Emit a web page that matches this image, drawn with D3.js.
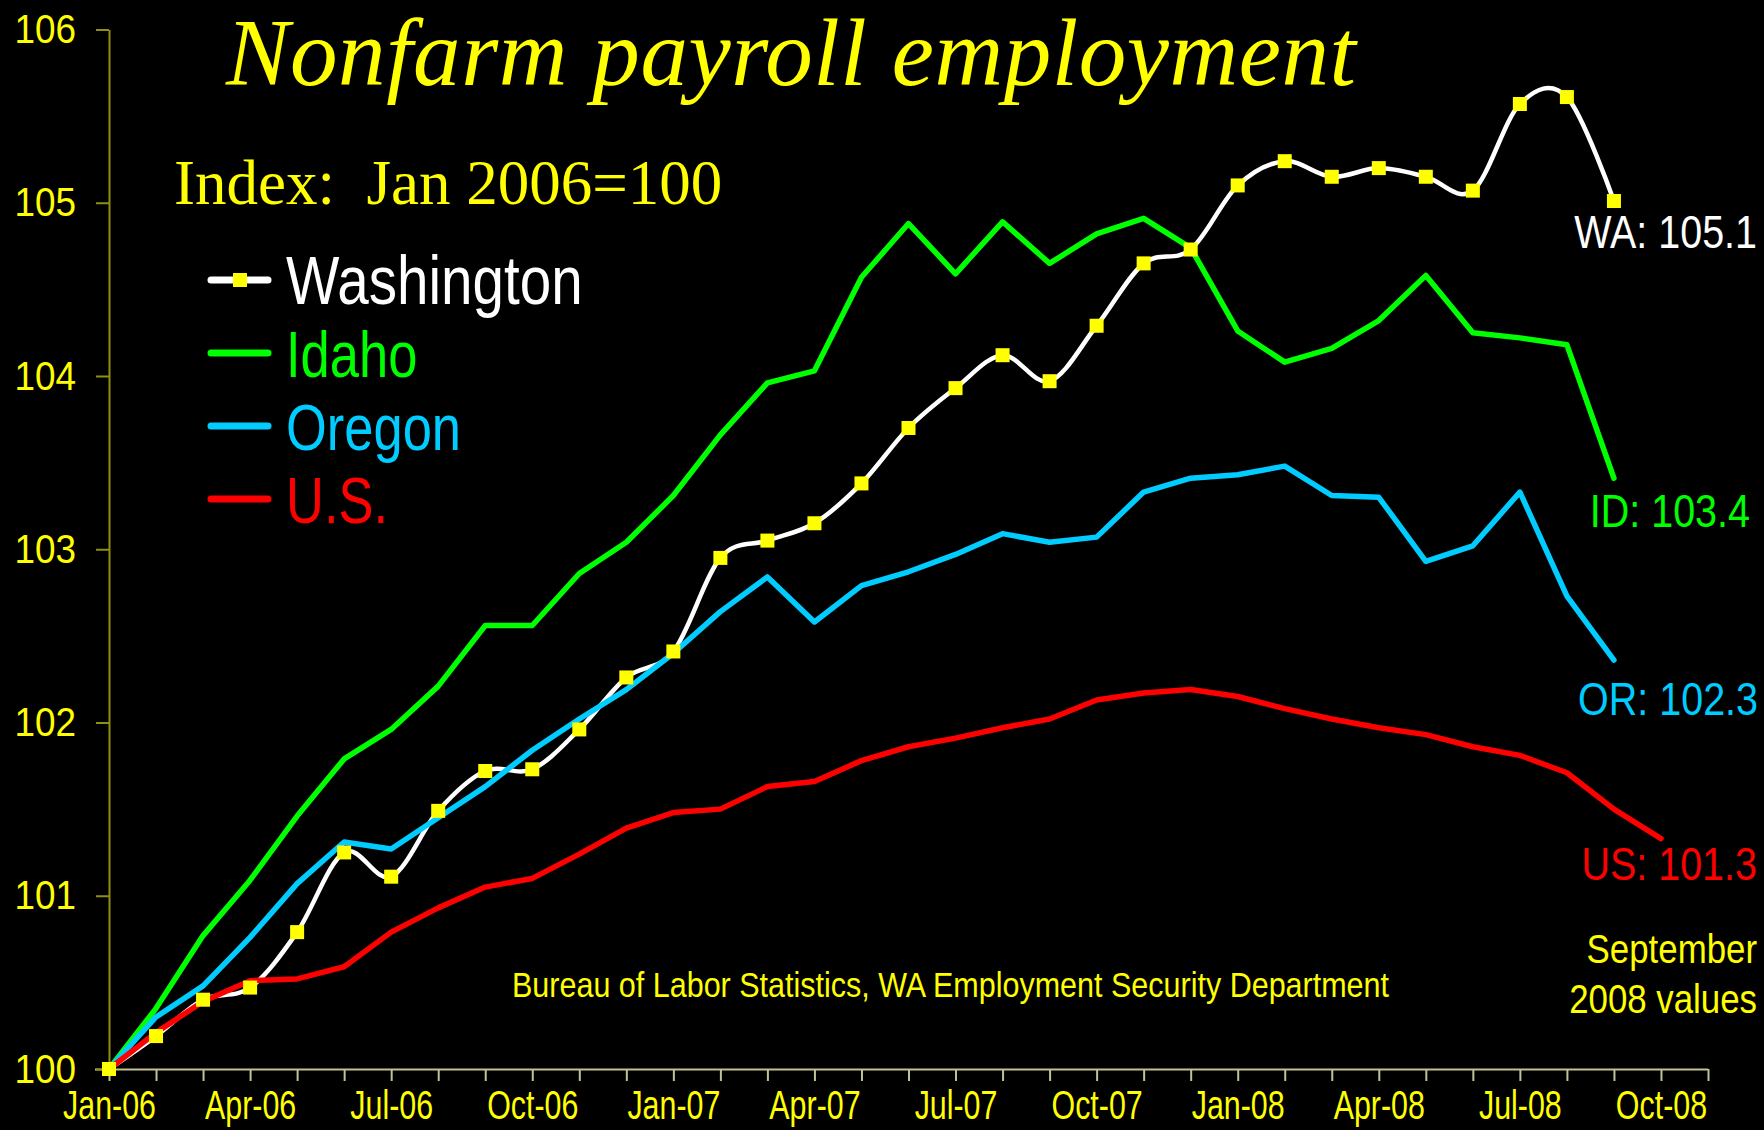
<!DOCTYPE html>
<html>
<head>
<meta charset="utf-8">
<script src="https://cdn.jsdelivr.net/npm/d3@7"></script>
<style>
  html, body { margin: 0; padding: 0; background: #000; }
  svg { display: block; }
</style>
</head>
<body>
<div id="chart"></div>
<script>
// Index values, Jan 2006 = 100 (one value per month from Jan-06)
const tickLabels = ['Jan-06', 'Apr-06', 'Jul-06', 'Oct-06', 'Jan-07', 'Apr-07',
                    'Jul-07', 'Oct-07', 'Jan-08', 'Apr-08', 'Jul-08', 'Oct-08'];

const washington = [100.00, 100.19, 100.40, 100.47, 100.79, 101.25, 101.11, 101.49, 101.72, 101.73, 101.96, 102.26,
                    102.41, 102.95, 103.05, 103.15, 103.38, 103.70, 103.93, 104.12, 103.97, 104.29, 104.65, 104.73,
                    105.10, 105.24, 105.15, 105.20, 105.15, 105.07, 105.57, 105.61, 105.01];
const idaho = [100.00, 100.35, 100.77, 101.09, 101.46, 101.79, 101.96, 102.21, 102.56, 102.56, 102.86, 103.04,
               103.31, 103.66, 103.96, 104.03, 104.57, 104.88, 104.59, 104.89, 104.65, 104.82, 104.91, 104.74,
               104.26, 104.08, 104.16, 104.32, 104.58, 104.25, 104.22, 104.18, 103.41];
const oregon = [100.00, 100.30, 100.48, 100.76, 101.07, 101.31, 101.27, 101.45, 101.63, 101.84, 102.02, 102.19,
                102.40, 102.64, 102.84, 102.58, 102.79, 102.87, 102.97, 103.09, 103.04, 103.07, 103.33, 103.41,
                103.43, 103.48, 103.31, 103.30, 102.93, 103.02, 103.33, 102.73, 102.36];
const us = [100.00, 100.21, 100.39, 100.51, 100.52, 100.59, 100.79, 100.93, 101.05, 101.10, 101.24, 101.39,
            101.48, 101.50, 101.63, 101.66, 101.78, 101.86, 101.91, 101.97, 102.02, 102.13, 102.17, 102.19,
            102.15, 102.08, 102.02, 101.97, 101.93, 101.86, 101.81, 101.71, 101.50, 101.33];

const seriesNames = ['Washington', 'Idaho', 'Oregon', 'U.S.'];
const endLabels = ['WA: 105.1', 'ID: 103.4', 'OR: 102.3', 'US: 101.3'];
const noteLines = ['September', '2008 values'];

const width = 1764;
const height = 1130;
const sans = '"Liberation Sans", Arial, sans-serif';
const serif = '"Liberation Serif", "Times New Roman", serif';
const yellow = '#ffff00';

const series = [
  {name: seriesNames[0], values: washington, color: '#ffffff', width: 4.5, smooth: true,
   labelX: 1757, labelY: 248, legendSize: 69},
  {name: seriesNames[1], values: idaho, color: '#00ff00', width: 5.5, labelX: 1750, labelY: 527, legendSize: 64},
  {name: seriesNames[2], values: oregon, color: '#00ccff', width: 5.5, labelX: 1758, labelY: 715, legendSize: 64},
  {name: seriesNames[3], values: us, color: '#ff0000', width: 5.5, labelX: 1757, labelY: 880, legendSize: 64}
];

// no narrow face is installed, so squeeze the regular one around its anchor
function condense(selection, k) {
  selection.each(function() {
    const t = d3.select(this);
    const x0 = +t.attr('x') || 0;
    t.attr('x', 0)
        .attr('transform', `translate(${x0},0) scale(${k},1)`);
  });
}

const x = d3.scaleLinear()
    .domain([0, 34])
    .range([109, 1708]);

const y = d3.scaleLinear()
    .domain([100, 106])
    .range([1069, 29.5]);

const svg = d3.select('#chart')
  .append('svg')
    .attr('width', width)
    .attr('height', height);

svg.append('rect')
    .attr('width', width)
    .attr('height', height)
    .attr('fill', '#000');

// axes
svg.append('g')
    .attr('transform', `translate(0,${y(100)})`)
    .call(d3.axisBottom(x)
        .tickValues(d3.range(0, 35))
        .tickSize(12)
        .tickSizeOuter(0)
        .tickPadding(10)
        .tickFormat(d => d % 3 === 0 ? tickLabels[d / 3] : ''))
    .call(g => g.select('.domain')
        .attr('d', `M${x(0) - 14},0.5H${x(34)}`)
        .attr('stroke', '#c2c294')
        .attr('stroke-width', 2))
    .call(g => g.selectAll('.tick line')
        .attr('stroke', '#c2c294')
        .attr('stroke-width', 2))
    .call(g => g.selectAll('.tick text')
        .attr('fill', yellow)
        .attr('font-family', sans)
        .attr('font-size', 40)
        .call(condense, 0.76));

svg.append('g')
    .attr('transform', `translate(${x(0)},0)`)
    .call(d3.axisLeft(y)
        .ticks(6)
        .tickFormat(d3.format('d'))
        .tickSize(13)
        .tickSizeOuter(0)
        .tickPadding(20))
    .call(g => g.select('.domain')
        .attr('stroke', '#8f8f10')
        .attr('stroke-width', 2))
    .call(g => g.selectAll('.tick line')
        .attr('stroke', '#8f8f10')
        .attr('stroke-width', 2))
    .call(g => g.selectAll('.tick text')
        .attr('fill', yellow)
        .attr('font-family', sans)
        .attr('font-size', 41)
        .call(condense, 0.9));

// lines, Washington at the bottom, its markers on top of everything
const plot = svg.append('g');

plot.selectAll('path.series')
  .data(series)
  .join('path')
    .attr('class', 'series')
    .attr('fill', 'none')
    .attr('stroke', d => d.color)
    .attr('stroke-width', d => d.width)
    .attr('stroke-linejoin', 'round')
    .attr('stroke-linecap', 'round')
    .attr('d', d => d3.line()
        .x((v, i) => x(i))
        .y(v => y(v))
        .curve(d.smooth ? d3.curveCardinal.tension(0) : d3.curveLinear)(d.values));

plot.selectAll('rect.marker')
  .data(washington)
  .join('rect')
    .attr('class', 'marker')
    .attr('x', (d, i) => x(i) - 7)
    .attr('y', d => y(d) - 7)
    .attr('width', 14)
    .attr('height', 14)
    .attr('fill', yellow);

// end labels
svg.selectAll('text.endLabel')
  .data(series)
  .join('text')
    .attr('class', 'endLabel')
    .attr('x', d => d.labelX)
    .attr('y', d => d.labelY)
    .attr('text-anchor', 'end')
    .attr('font-family', sans)
    .attr('font-size', 47)
    .attr('fill', d => d.color)
    .text((d, i) => endLabels[i])
    .call(condense, 0.84);

// legend
const legend = svg.append('g')
    .attr('transform', 'translate(211,280)');

const rows = legend.selectAll('g')
  .data(series)
  .join('g')
    .attr('transform', (d, i) => `translate(0,${i * 73})`);

rows.append('line')
    .attr('x2', 57)
    .attr('stroke', d => d.color)
    .attr('stroke-width', 7)
    .attr('stroke-linecap', 'round');

rows.filter(d => d.smooth)
  .append('rect')
    .attr('x', 22)
    .attr('y', -7)
    .attr('width', 14)
    .attr('height', 14)
    .attr('fill', yellow);

rows.append('text')
    .attr('x', 75)
    .attr('y', 24)
    .attr('font-family', sans)
    .attr('font-size', d => d.legendSize)
    .attr('fill', d => d.color)
    .text(d => d.name)
    .call(condense, 0.82);

// titles and notes
svg.append('text')
    .attr('x', 226)
    .attr('y', 85)
    .attr('font-family', serif)
    .attr('font-style', 'italic')
    .attr('font-size', 95)
    .attr('fill', yellow)
    .attr('textLength', 1130)
    .text('Nonfarm payroll employment');

svg.append('text')
    .attr('x', 174)
    .attr('y', 204)
    .attr('font-family', serif)
    .attr('font-size', 63)
    .attr('fill', yellow)
    .style('white-space', 'pre')
    .text('Index:  Jan 2006=100');

svg.append('text')
    .attr('x', 512)
    .attr('y', 997)
    .attr('font-family', sans)
    .attr('font-size', 35)
    .attr('fill', yellow)
    .attr('textLength', 877)
    .attr('lengthAdjust', 'spacingAndGlyphs')
    .text('Bureau of Labor Statistics, WA Employment Security Department');

svg.selectAll('text.note')
  .data(noteLines)
  .join('text')
    .attr('class', 'note')
    .attr('x', 1757)
    .attr('y', (d, i) => 963 + i * 50)
    .attr('text-anchor', 'end')
    .attr('font-family', sans)
    .attr('font-size', 41)
    .attr('fill', yellow)
    .text(d => d)
    .call(condense, 0.85);
</script>
</body>
</html>
